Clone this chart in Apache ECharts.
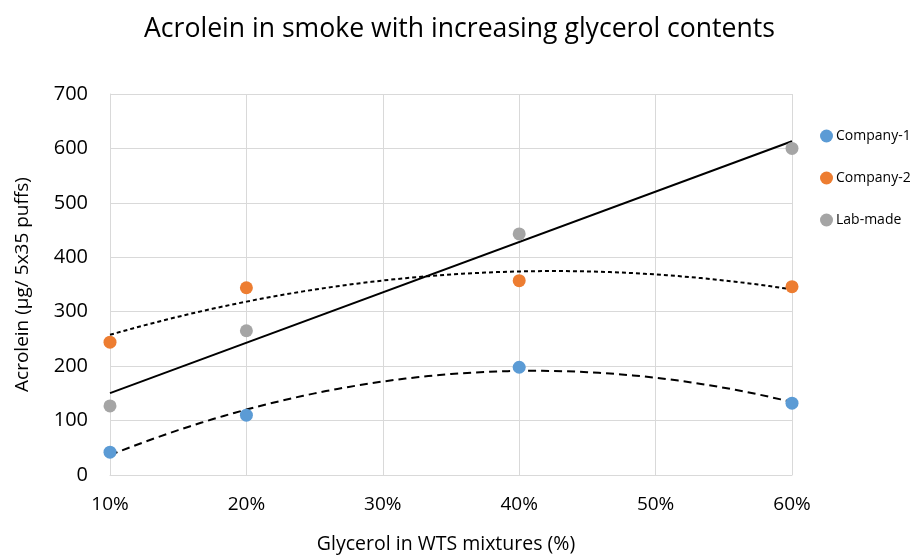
<!DOCTYPE html>
<html>
<head>
<meta charset="utf-8">
<script src="https://cdn.jsdelivr.net/npm/echarts@6/dist/echarts.min.js"></script>
<style>
  html, body { margin: 0; padding: 0; background: #fff; }
  #chart { width: 919px; height: 560px; }
</style>
</head>
<body>
<div id="chart"></div>
<script>
// Glycerol content (%) of each tested mixture
const glycerol = [10, 20, 40, 60];
// Acrolein (µg / 5x35 puffs)
const company1 = [42, 110, 198, 132];
const company2 = [244, 344, 357, 346];
const labMade = [127, 265, 443, 600];
const xTicks = [10, 20, 30, 40, 50, 60];
const yTicks = [0, 100, 200, 300, 400, 500, 600, 700];

// Least-squares polynomial fit of given order
function polyFit(xs, ys, order) {
  const n = order + 1;
  const A = [];
  for (let r = 0; r < n; r++) {
    A.push(new Array(n + 1).fill(0));
    for (let c = 0; c < n; c++) {
      A[r][c] = xs.reduce((s, x) => s + Math.pow(x, r + c), 0);
    }
    A[r][n] = xs.reduce((s, x, i) => s + ys[i] * Math.pow(x, r), 0);
  }
  for (let i = 0; i < n; i++) {
    let p = i;
    for (let k = i + 1; k < n; k++) if (Math.abs(A[k][i]) > Math.abs(A[p][i])) p = k;
    [A[i], A[p]] = [A[p], A[i]];
    for (let k = i + 1; k < n; k++) {
      const f = A[k][i] / A[i][i];
      for (let j = i; j <= n; j++) A[k][j] -= f * A[i][j];
    }
  }
  const coef = new Array(n).fill(0);
  for (let i = n - 1; i >= 0; i--) {
    let s = A[i][n];
    for (let j = i + 1; j < n; j++) s -= A[i][j] * coef[j];
    coef[i] = s / A[i][i];
  }
  return coef;
}

// Sample the fitted curve across the measured glycerol range
function trendPoints(xs, ys, order) {
  const coef = polyFit(xs, ys, order);
  const lo = Math.min(...xs), hi = Math.max(...xs);
  const pts = [];
  const steps = order === 1 ? 1 : 60;
  for (let i = 0; i <= steps; i++) {
    const x = lo + (hi - lo) * i / steps;
    const y = coef.reduce((s, c, k) => s + c * Math.pow(x, k), 0);
    pts.push([x, y]);
  }
  return pts;
}

const pair = (ys) => glycerol.map((x, i) => [x, ys[i]]);
const font = '"Open Sans", sans-serif';

const chart = echarts.init(document.getElementById('chart'), null, { renderer: 'canvas' });
chart.setOption({
  animation: false,
  backgroundColor: '#fff',
  title: {
    text: 'Acrolein in smoke with increasing glycerol contents',
    left: 'center',
    top: 11,
    textStyle: { fontFamily: font, fontSize: 26.6, fontWeight: 'normal', color: '#000' }
  },
  legend: {
    data: ['Company-1', 'Company-2', 'Lab-made'],
    orient: 'vertical',
    left: 815,
    top: 124,
    itemGap: 28,
    itemWidth: 13,
    itemHeight: 13,
    icon: 'circle',
    textStyle: { fontFamily: font, fontSize: 14, color: '#000', padding: [0, 0, 0, -2] }
  },
  grid: { left: 110, right: 127, top: 94, bottom: 85 },
  xAxis: {
    type: 'value',
    min: 10, max: 60, interval: 10,
    name: 'Glycerol in WTS mixtures (%)',
    nameLocation: 'middle',
    nameGap: 59,
    nameTextStyle: { fontFamily: font, fontSize: 19.5, color: '#000', padding: [0, 10, 0, 0] },
    axisLine: { show: true, lineStyle: { color: '#d9d9d9' } },
    axisTick: { show: false },
    axisLabel: {
      fontFamily: font, fontSize: 19, color: '#000', margin: 20,
      formatter: (v) => xTicks.includes(v) ? v + '%' : ''
    },
    splitLine: { show: true, lineStyle: { color: '#d9d9d9', width: 1 } }
  },
  yAxis: {
    type: 'value',
    min: 0, max: 700, interval: 100,
    name: 'Acrolein (µg/ 5x35 puffs)',
    nameLocation: 'middle',
    nameGap: 78,
    nameTextStyle: { fontFamily: font, fontSize: 19, color: '#000' },
    axisLine: { show: true, lineStyle: { color: '#d9d9d9' } },
    axisTick: { show: false },
    axisLabel: {
      fontFamily: font, fontSize: 20, color: '#000', margin: 22,
      formatter: (v) => yTicks.includes(v) ? String(v) : ''
    },
    splitLine: { show: true, lineStyle: { color: '#d9d9d9', width: 1 } }
  },
  series: [
    {
      name: 'Company-1 trend', type: 'line', data: trendPoints(glycerol, company1, 2),
      showSymbol: false, smooth: false, z: 2,
      lineStyle: { color: '#000', width: 2, type: [8, 5] }
    },
    {
      name: 'Company-2 trend', type: 'line', data: trendPoints(glycerol, company2, 2),
      showSymbol: false, smooth: false, z: 2,
      lineStyle: { color: '#000', width: 2, type: [4, 3] }
    },
    {
      name: 'Lab-made trend', type: 'line', data: trendPoints(glycerol, labMade, 1),
      showSymbol: false, z: 2,
      lineStyle: { color: '#000', width: 2, type: 'solid' }
    },
    {
      name: 'Company-1', type: 'scatter', data: pair(company1), symbolSize: 13, z: 3,
      itemStyle: { color: '#5B9BD5', opacity: 1 }
    },
    {
      name: 'Company-2', type: 'scatter', data: pair(company2), symbolSize: 13, z: 3,
      itemStyle: { color: '#ED7D31', opacity: 1 }
    },
    {
      name: 'Lab-made', type: 'scatter', data: pair(labMade), symbolSize: 13, z: 3,
      itemStyle: { color: '#A5A5A5', opacity: 1 }
    }
  ]
});
</script>
</body>
</html>
